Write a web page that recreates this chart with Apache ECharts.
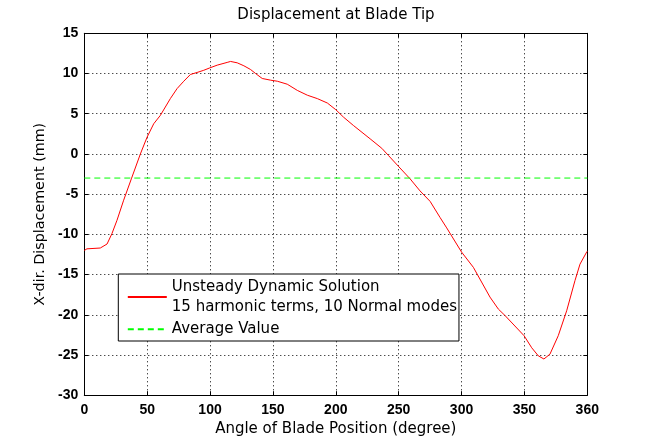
<!DOCTYPE html>
<html>
<head>
<meta charset="utf-8">
<script src="https://cdn.jsdelivr.net/npm/echarts@6/dist/echarts.min.js"></script>
<style>
html,body{margin:0;padding:0;background:#fff;}
#chart{width:649px;height:444px;}
</style>
</head>
<body>
<div id="chart"></div>
<script>
// Data (x in axis units; the last tick is labelled 360)
var angle = [0, 2.1, 12.7, 18.1, 22.0, 26.0, 31.3, 37.4, 44.6, 49.9, 55.2, 60.5, 68.5, 73.8, 79.1, 84.4, 89.7, 95.0, 99.8, 105.7, 113.6, 116.3, 121.6, 126.9, 132.2, 136.2, 141.5, 148.2, 153.5, 161.4, 169.4, 177.4, 185.3, 193.3, 200.0, 206.1, 214.0, 227.3, 236.6, 241.9, 249.8, 259.1, 267.0, 275.0, 282.9, 288.2, 300.0, 309.4, 322.6, 329.3, 334.6, 349.7, 355.8, 361.0, 365.5, 370.3, 376.9, 383.6, 390.2, 394.2, 399.5, 400];
var displacement = [-12.0, -11.8, -11.7, -11.2, -9.9, -8.25, -5.75, -3.1, 0.0, 2.08, 3.75, 4.8, 6.9, 8.13, 9.04, 9.88, 10.13, 10.4, 10.7, 11.04, 11.38, 11.5, 11.33, 10.96, 10.5, 10.0, 9.38, 9.17, 9.04, 8.67, 7.9, 7.3, 6.88, 6.33, 5.5, 4.58, 3.54, 1.88, 0.7, -0.2, -1.54, -3.1, -4.6, -5.9, -7.9, -9.2, -12.2, -14.1, -17.8, -19.3, -20.1, -22.6, -24.1, -25.1, -25.5, -24.9, -22.6, -19.5, -15.75, -13.7, -12.2, -12.1];
var averageValue = -3.0;
var averageX = [0, 400];
var xTickLabels = ['0', '50', '100', '150', '200', '250', '300', '350', '360'];
var seriesNames = ['Unsteady Dynamic Solution\n15 harmonic terms, 10 Normal modes', 'Average Value'];

var mainData = angle.map(function (a, i) { return [a, displacement[i]]; });
var avgData = averageX.map(function (a) { return [a, averageValue]; });

var TXT = 'DejaVu Sans';
var TICK = 'Liberation Sans';
var chart = echarts.init(document.getElementById('chart'), null, {renderer: 'canvas'});
var gridLine = {show: true, lineStyle: {color: '#000', width: 1, type: [1, 3]}};
var axLine = {show: true, onZero: false, lineStyle: {color: '#000', width: 1}};
var tick = {show: true, inside: true, length: 4, lineStyle: {color: '#000'}};
chart.setOption({
  animation: false,
  backgroundColor: '#fff',
  title: {
    text: 'Displacement at Blade Tip',
    left: 336, top: 8, textAlign: 'center', padding: 0,
    textStyle: {fontFamily: TXT, fontSize: 15, fontWeight: 'normal', color: '#000'}
  },
  grid: {left: 84.3, right: 61.7, top: 33.3, bottom: 48.8},
  legend: {
    orient: 'vertical', left: 118.3, top: 274,
    padding: [3.5, 2, 2, 8.5], itemGap: 3,
    itemWidth: 39, itemHeight: 14,
    borderColor: '#000', borderWidth: 1, backgroundColor: '#fff',
    itemStyle: {opacity: 0},
    textStyle: {fontFamily: TXT, fontSize: 15, lineHeight: 19.5, color: '#000'},
    data: seriesNames
  },
  xAxis: [{
    type: 'value', min: 0, max: 400, interval: 50,
    name: 'Angle of Blade Position (degree)', nameLocation: 'middle', nameGap: 19,
    nameTextStyle: {fontFamily: TXT, fontSize: 15, color: '#000'},
    axisLine: axLine, axisTick: tick,
    axisLabel: {margin: 8, fontFamily: TICK, fontSize: 14, fontWeight: 'bold', color: '#000',
      showMinLabel: true, showMaxLabel: true,
      formatter: function (v) { return xTickLabels[Math.round(v / 50)]; }},
    splitLine: gridLine
  }, {
    type: 'value', position: 'top', min: 0, max: 400, interval: 50,
    axisLine: axLine, axisTick: tick,
    axisLabel: {show: false}, splitLine: {show: false}
  }],
  yAxis: [{
    type: 'value', min: -30, max: 15, interval: 5,
    name: 'X-dir. Displacement (mm)', nameLocation: 'middle', nameGap: 35, nameRotate: 90,
    nameTextStyle: {fontFamily: TXT, fontSize: 14.3, color: '#000'},
    axisLine: axLine, axisTick: tick,
    axisLabel: {margin: 6, fontFamily: TICK, fontSize: 14, fontWeight: 'bold', color: '#000',
      showMinLabel: true, showMaxLabel: true},
    splitLine: gridLine
  }, {
    type: 'value', position: 'right', min: -30, max: 15, interval: 5,
    axisLine: axLine, axisTick: tick,
    axisLabel: {show: false}, splitLine: {show: false}
  }],
  series: [{
    name: seriesNames[0], type: 'line', data: mainData,
    xAxisIndex: 0, yAxisIndex: 0,
    symbol: 'none', smooth: false,
    lineStyle: {color: '#ff0000', width: 1}, itemStyle: {color: '#ff0000'}
  }, {
    name: seriesNames[1], type: 'line', data: avgData,
    xAxisIndex: 0, yAxisIndex: 0,
    symbol: 'none',
    lineStyle: {color: '#00ff00', width: 1, type: [6, 4]}, itemStyle: {color: '#00ff00'}
  }]
});
</script>
</body>
</html>
